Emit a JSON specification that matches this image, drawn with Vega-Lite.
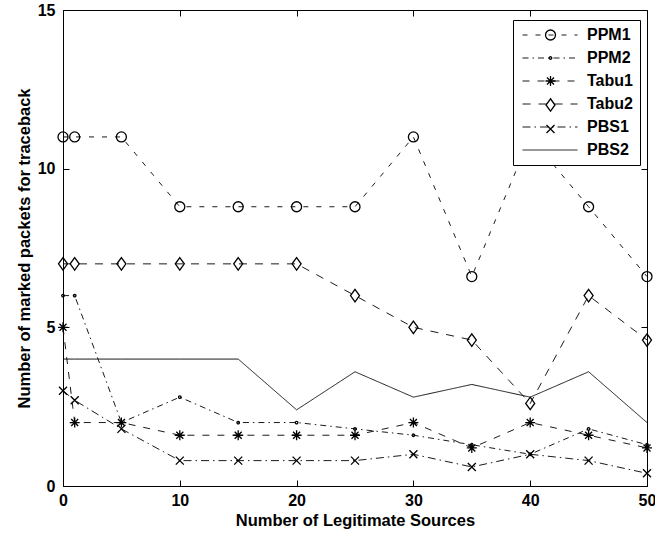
{
  "$schema": "https://vega.github.io/schema/vega-lite/v6.json",
  "width": 584,
  "height": 476,
  "autosize": {"type": "none"},
  "padding": {"left": 63, "top": 10, "right": 8, "bottom": 50},
  "background": "white",
  "config": {
    "view": {"stroke": "black", "strokeWidth": 1},
    "font": "Liberation Sans",
    "axis": {
      "grid": false,
      "domainColor": "black",
      "tickColor": "black",
      "labelColor": "black",
      "titleColor": "black",
      "labelFont": "Liberation Sans",
      "titleFont": "Liberation Sans",
      "labelFontSize": 16,
      "labelFontWeight": "bold",
      "titleFontSize": 16.5,
      "titleFontWeight": "bold",
      "tickSize": -6,
      "labelFlush": false,
      "labelOverlap": false
    }
  },
  "data": {
    "values": [
      {"series": "PPM1", "x": 0, "y": 11}, {"series": "PPM1", "x": 1, "y": 11}, {"series": "PPM1", "x": 5, "y": 11},
      {"series": "PPM1", "x": 10, "y": 8.8}, {"series": "PPM1", "x": 15, "y": 8.8}, {"series": "PPM1", "x": 20, "y": 8.8},
      {"series": "PPM1", "x": 25, "y": 8.8}, {"series": "PPM1", "x": 30, "y": 11}, {"series": "PPM1", "x": 35, "y": 6.6},
      {"series": "PPM1", "x": 40, "y": 11}, {"series": "PPM1", "x": 45, "y": 8.8}, {"series": "PPM1", "x": 50, "y": 6.6},

      {"series": "PPM2", "x": 0, "y": 6}, {"series": "PPM2", "x": 1, "y": 6}, {"series": "PPM2", "x": 5, "y": 2.0},
      {"series": "PPM2", "x": 10, "y": 2.8}, {"series": "PPM2", "x": 15, "y": 2.0}, {"series": "PPM2", "x": 20, "y": 2.0},
      {"series": "PPM2", "x": 25, "y": 1.8}, {"series": "PPM2", "x": 30, "y": 1.6}, {"series": "PPM2", "x": 35, "y": 1.3},
      {"series": "PPM2", "x": 40, "y": 1.0}, {"series": "PPM2", "x": 45, "y": 1.8}, {"series": "PPM2", "x": 50, "y": 1.3},

      {"series": "Tabu1", "x": 0, "y": 5}, {"series": "Tabu1", "x": 1, "y": 2}, {"series": "Tabu1", "x": 5, "y": 2},
      {"series": "Tabu1", "x": 10, "y": 1.6}, {"series": "Tabu1", "x": 15, "y": 1.6}, {"series": "Tabu1", "x": 20, "y": 1.6},
      {"series": "Tabu1", "x": 25, "y": 1.6}, {"series": "Tabu1", "x": 30, "y": 2}, {"series": "Tabu1", "x": 35, "y": 1.2},
      {"series": "Tabu1", "x": 40, "y": 2}, {"series": "Tabu1", "x": 45, "y": 1.6}, {"series": "Tabu1", "x": 50, "y": 1.2},

      {"series": "Tabu2", "x": 0, "y": 7}, {"series": "Tabu2", "x": 1, "y": 7}, {"series": "Tabu2", "x": 5, "y": 7},
      {"series": "Tabu2", "x": 10, "y": 7}, {"series": "Tabu2", "x": 15, "y": 7}, {"series": "Tabu2", "x": 20, "y": 7},
      {"series": "Tabu2", "x": 25, "y": 6}, {"series": "Tabu2", "x": 30, "y": 5}, {"series": "Tabu2", "x": 35, "y": 4.6},
      {"series": "Tabu2", "x": 40, "y": 2.6}, {"series": "Tabu2", "x": 45, "y": 6}, {"series": "Tabu2", "x": 50, "y": 4.6},

      {"series": "PBS1", "x": 0, "y": 3}, {"series": "PBS1", "x": 1, "y": 2.7}, {"series": "PBS1", "x": 5, "y": 1.8},
      {"series": "PBS1", "x": 10, "y": 0.8}, {"series": "PBS1", "x": 15, "y": 0.8}, {"series": "PBS1", "x": 20, "y": 0.8},
      {"series": "PBS1", "x": 25, "y": 0.8}, {"series": "PBS1", "x": 30, "y": 1.0}, {"series": "PBS1", "x": 35, "y": 0.6},
      {"series": "PBS1", "x": 40, "y": 1.0}, {"series": "PBS1", "x": 45, "y": 0.8}, {"series": "PBS1", "x": 50, "y": 0.4},

      {"series": "PBS2", "x": 0, "y": 4}, {"series": "PBS2", "x": 1, "y": 4}, {"series": "PBS2", "x": 5, "y": 4},
      {"series": "PBS2", "x": 10, "y": 4}, {"series": "PBS2", "x": 15, "y": 4}, {"series": "PBS2", "x": 20, "y": 2.4},
      {"series": "PBS2", "x": 25, "y": 3.6}, {"series": "PBS2", "x": 30, "y": 2.8}, {"series": "PBS2", "x": 35, "y": 3.2},
      {"series": "PBS2", "x": 40, "y": 2.8}, {"series": "PBS2", "x": 45, "y": 3.6}, {"series": "PBS2", "x": 50, "y": 2.0}
    ]
  },
  "resolve": {"axis": {"x": "independent", "y": "independent"}},
  "layer": [
    {
      "mark": {"type": "line", "color": "black"},
      "encoding": {
        "x": {"field": "x", "type": "quantitative", "scale": {"domain": [0, 50], "nice": false},
              "axis": {"values": [0, 10, 20, 30, 40, 50], "labelPadding": 12, "title": "Number of Legitimate Sources", "titlePadding": 4}},
        "y": {"field": "y", "type": "quantitative", "scale": {"domain": [0, 15], "nice": false},
              "axis": {"values": [0, 5, 10, 15], "labelPadding": 14, "title": "Number of marked packets for traceback", "titlePadding": 5}},
        "strokeDash": {"field": "series", "type": "nominal",
          "scale": {"domain": ["PPM1", "PPM2", "Tabu1", "Tabu2", "PBS1", "PBS2"],
                    "range": [[5, 8], [6, 4, 1.5, 4], [7, 8], [8, 8], [8, 4, 1.5, 4], [1, 0]]},
          "legend": {"orient": "none", "legendX": 450, "legendY": 10, "title": null, "symbolType": "M-1,0H9", "symbolSize": 121,
                     "symbolStrokeColor": "black", "labelFont": "Liberation Sans", "labelFontSize": 16, "labelFontWeight": "bold",
                     "labelColor": "black", "padding": 7, "rowPadding": 7, "labelOffset": 51, "strokeColor": "black",
                     "fillColor": "white", "zindex": 1, "cornerRadius": 0}},
        "strokeWidth": {"field": "series", "type": "nominal",
          "scale": {"domain": ["PPM1", "PPM2", "Tabu1", "Tabu2", "PBS1", "PBS2"],
                    "range": [0.9, 0.9, 1.4, 1.3, 1.5, 1.5]},
          "legend": {"orient": "none", "legendX": 450, "legendY": 10, "title": null, "symbolType": "M-1,0H9", "symbolSize": 121,
                     "symbolStrokeColor": "black", "labelFont": "Liberation Sans", "labelFontSize": 16, "labelFontWeight": "bold",
                     "labelColor": "black", "padding": 7, "rowPadding": 7, "labelOffset": 51, "strokeColor": "black",
                     "fillColor": "white", "zindex": 1, "cornerRadius": 0}}
      }
    },
    {
      "mark": {"type": "point", "filled": false, "color": "black", "strokeWidth": 1.3, "size": 100, "opacity": 1},
      "encoding": {
        "x": {"field": "x", "type": "quantitative", "axis": null},
        "y": {"field": "y", "type": "quantitative", "axis": null},
        "shape": {"field": "series", "type": "nominal", "sort": ["PPM1", "PPM2", "Tabu1", "Tabu2", "PBS1", "PBS2"],
          "scale": {"range": [
            "M1,0A1,1 0 1 1 -1,0A1,1 0 1 1 1,0Z",
            "M0.25,0A0.25,0.25 0 1 1 -0.25,0A0.25,0.25 0 1 1 0.25,0Z",
            "M0,-1V1M-1,0H1M-0.7,-0.7L0.7,0.7M-0.7,0.7L0.7,-0.7",
            "M0,-1.25L0.9,0L0,1.25L-0.9,0Z",
            "M-0.8,-0.8L0.8,0.8M-0.8,0.8L0.8,-0.8",
            "M0,0"
          ]},
          "legend": {"orient": "none", "legendX": 472.5, "legendY": 10, "title": null, "symbolSize": 100,
                     "symbolStrokeColor": "black", "symbolStrokeWidth": 1.3, "symbolFillColor": "transparent",
                     "labelExpr": "' '", "labelFont": "Liberation Sans", "labelFontSize": 16, "labelFontWeight": "bold",
                     "padding": 7, "rowPadding": 7, "labelOffset": 0, "zindex": 2}}
      }
    },
    {
      "mark": {"type": "point", "opacity": 0},
      "encoding": {
        "x": {"field": "x", "type": "quantitative",
              "axis": {"orient": "top", "values": [0, 10, 20, 30, 40, 50], "labels": false, "title": null, "domain": false}},
        "y": {"field": "y", "type": "quantitative",
              "axis": {"orient": "right", "values": [0, 5, 10, 15], "labels": false, "title": null, "domain": false}}
      }
    }
  ]
}
